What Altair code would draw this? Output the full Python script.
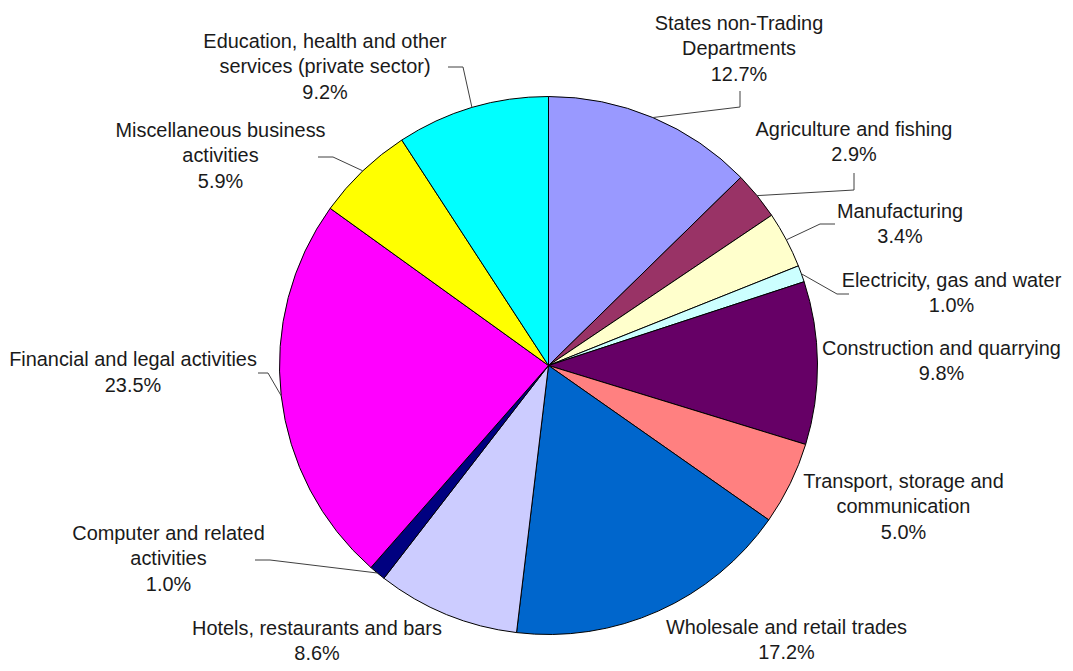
import altair as alt
import pandas as pd
import numpy as np

# ---- data ----
sectors = [
    "States non-Trading Departments",
    "Agriculture and fishing",
    "Manufacturing",
    "Electricity, gas and water",
    "Construction and quarrying",
    "Transport, storage and communication",
    "Wholesale and retail trades",
    "Hotels, restaurants and bars",
    "Computer and related activities",
    "Financial and legal activities",
    "Miscellaneous business activities",
    "Education, health and other services (private sector)",
]
label_text = [
    "States non-Trading\nDepartments",
    "Agriculture and fishing",
    "Manufacturing",
    "Electricity, gas and water",
    "Construction and quarrying",
    "Transport, storage and\ncommunication",
    "Wholesale and retail trades",
    "Hotels, restaurants and bars",
    "Computer and related\nactivities",
    "Financial and legal activities",
    "Miscellaneous business\nactivities",
    "Education, health and other\nservices (private sector)",
]
values = [12.7, 2.9, 3.4, 1.0, 9.8, 5.0, 17.2, 8.6, 1.0, 23.5, 5.9, 9.2]
colors = ["#9999FF", "#993366", "#FFFFCC", "#CCFFFF", "#660066", "#FF8080",
          "#0066CC", "#CCCCFF", "#000080", "#FF00FF", "#FFFF00", "#00FFFF"]

# ---- layout (pixels relative to pie centre, y downward) ----
R = 269
label_dx = [190.5, 305.5, 351.5, 403, 393, 355, 238, -231.5, -380, -415.5, -328, -223.5]
label_dy = [-336, -230, -148, -79, -11, 122, 268, 269, 174, 0.5, -229, -318]
# leader lines: (elbow, end) or None
leaders = [
    ((191.5, -258.5), (191.5, -274.5)),
    ((305.5, -175.5), (305.5, -192.5)),
    ((271.5, -141.5), (286.5, -141.5)),
    ((288.5, -71.5), (300.5, -71.5)),
    None, None, None, None,
    ((-278.5, 194.5), (-293.5, 194.5)),
    ((-280.5, 7.5), (-290.5, 7.5)),
    ((-215.5, -208.5), (-230.5, -208.5)),
    ((-85.5, -298.5), (-100.5, -298.5)),
]

total = sum(values)
cum = np.cumsum(values)
mid = (cum - np.array(values) / 2) / total * 2 * np.pi

df = pd.DataFrame({
    "idx": list(range(len(sectors))),
    "sector": sectors,
    "value": values,
    "label": [f"{t}\n{v:.1f}%" for t, v in zip(label_text, values)],
    "lx": label_dx,
    "ly": label_dy,
})

rows = []
for i, ld in enumerate(leaders):
    if ld is None:
        continue
    sx, sy = R * np.sin(mid[i]), -R * np.cos(mid[i])
    pts = [(sx, sy), ld[0], ld[1]]
    for k, (px, py) in enumerate(pts):
        rows.append({"sector": sectors[i], "ord": k, "px": px, "py": py})
lead_df = pd.DataFrame(rows)

W, H = 1057, 655
cx, cy = 540.5, 357.5
xs = alt.Scale(domain=[-cx, W - cx], nice=False, zero=False)
ys = alt.Scale(domain=[-cy, H - cy], nice=False, zero=False, reverse=True)

arc = alt.Chart(df).mark_arc(outerRadius=R, stroke="black", strokeWidth=1).encode(
    theta=alt.Theta("value:Q", stack=True),
    color=alt.Color("sector:N", scale=alt.Scale(domain=sectors, range=colors), legend=None),
    order=alt.Order("idx:Q"),
    x=alt.XDatum(0, scale=xs, axis=None),
    y=alt.YDatum(0, scale=ys, axis=None),
)

lines = alt.Chart(lead_df).mark_line(color="#404040", strokeWidth=1).encode(
    x=alt.X("px:Q", scale=xs, axis=None),
    y=alt.Y("py:Q", scale=ys, axis=None),
    detail="sector:N",
    order="ord:Q",
)

text = alt.Chart(df).mark_text(
    align="center", baseline="alphabetic", lineBreak="\n", lineHeight=25.5,
    fontSize=19.9, font="Liberation Sans", color="#1a1a1a",
).encode(
    x=alt.X("lx:Q", scale=xs, axis=None),
    y=alt.Y("ly:Q", scale=ys, axis=None),
    text="label:N",
)

chart = alt.layer(arc, lines, text).properties(
    width=W, height=H, padding=0, autosize=alt.AutoSizeParams(type="none")
).configure_view(strokeWidth=0)

chart.save("out.html", embed_options={"renderer": "svg", "actions": False})
